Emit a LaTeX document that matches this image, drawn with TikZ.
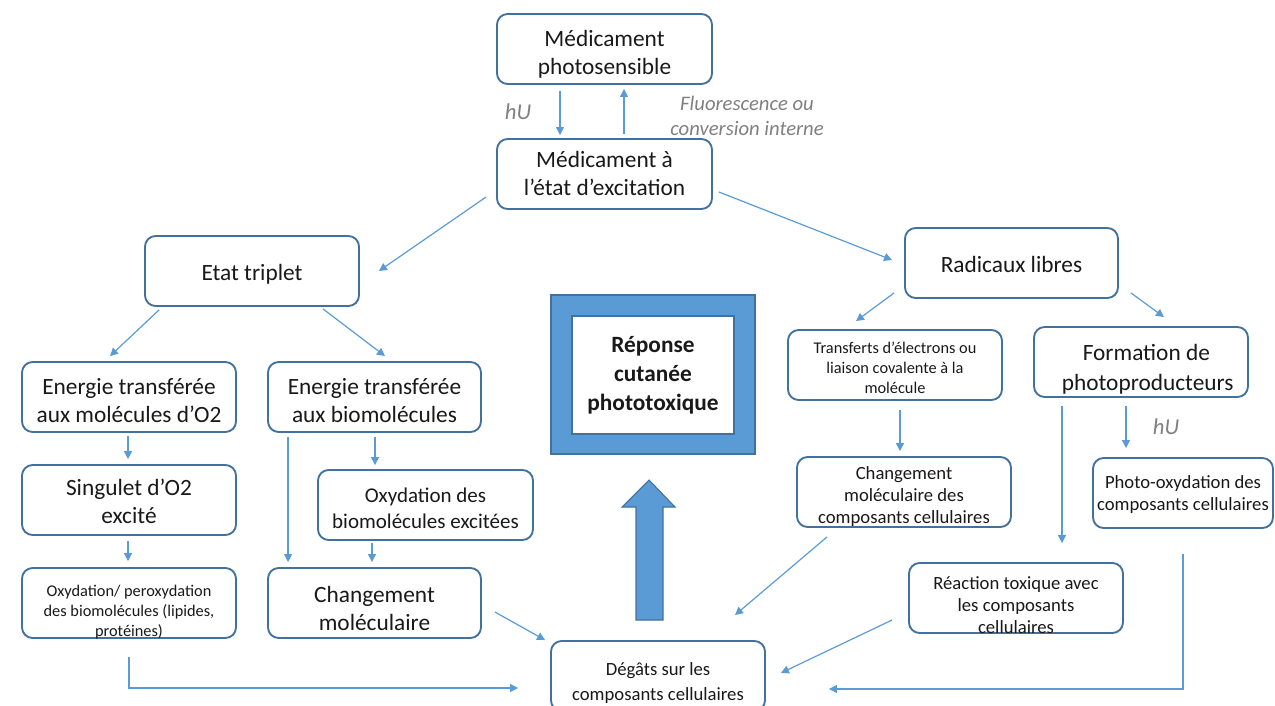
\documentclass[tikz,border=0pt]{standalone}
\usepackage{fontspec}
\setmainfont{Carlito}
\usetikzlibrary{arrows.meta}
\definecolor{bordercol}{HTML}{41719C}
\definecolor{arrowcol}{HTML}{5B9BD5}
\definecolor{graytext}{HTML}{808080}
\newcommand\bxt[2][0pt]{\raisebox{-#1}[\height][\depth]{\begin{tabular}{@{}c@{}}#2\end{tabular}}}
\begin{document}
\begin{tikzpicture}[x=0.75pt,y=-0.75pt,
  box/.style={draw=bordercol, line width=1.4pt, rounded corners=8pt, fill=white, align=center, inner sep=1pt, text=black!90},
  wh/.style 2 args={minimum width=#1*0.75pt, minimum height=#2*0.75pt},
  fbig/.style={font=\fontsize{17.5}{21}\selectfont},
  fform/.style={font=\fontsize{17.5}{22.5}\selectfont},
  fmid/.style={font=\fontsize{14}{18.75}\selectfont},
  fsmall/.style={font=\fontsize{14}{16.75}\selectfont},
  foxb/.style={font=\fontsize{15.75}{19.5}\selectfont},
  ftiny/.style={font=\fontsize{12.25}{15}\selectfont},
  glabel/.style={text=graytext, align=center, font=\itshape\fontsize{15.5}{18.5}\selectfont},
  hlabel/.style={text=graytext, font=\itshape\fontsize{17}{20}\selectfont},
  arr/.style={draw=arrowcol, line width=0.9pt, -{Triangle[length=6pt,width=6pt]}},
  bigfill/.style={fill=arrowcol, draw=bordercol, line width=0.8pt}
]
\useasboundingbox (0,0) rectangle (1275,706);
\clip (0,0) rectangle (1275,706);

% boxes
\node[box, wh={215}{70}, fbig] (photo) at (604.5,49) {\bxt[4.5pt]{Médicament\\photosensible}};
\node[box, wh={215}{70}, fbig] (excit) at (604.5,174) {\bxt[1.5pt]{Médicament à\\l’état d’excitation}};
\node[box, wh={214}{70}, fbig] (triplet) at (252,271) {\bxt[3pt]{Etat triplet}};
\node[box, wh={214}{70}, fbig] (eo2) at (129,397) {\bxt[4.5pt]{Energie transférée\\aux molécules d’O2}};
\node[box, wh={213}{70}, fbig] (ebio) at (374.5,397) {\bxt[4.5pt]{Energie transférée\\aux biomolécules}};
\node[box, wh={214}{70}, fbig] (sing) at (129,500) {\bxt[3pt]{Singulet d’O2\\excité}};
\node[box, wh={214}{70}, ftiny] (perox) at (129,603) {\bxt[7pt]{Oxydation/ peroxydation\\des biomolécules (lipides,\\protéines)}};
\node[box, wh={215}{70}, foxb] (oxbio) at (425.5,505) {\bxt[3.75pt]{Oxydation des\\biomolécules excitées}};
\node[box, wh={213}{70}, fbig] (chg) at (374.5,603) {\bxt[6.25pt]{Changement\\moléculaire}};
\node[box, wh={214}{70}, fmid] (degats) at (658,676) {\bxt[5pt]{Dégâts sur les\\composants cellulaires}};
\node[box, wh={213}{70}, fbig] (rad) at (1011.5,263) {\bxt[3pt]{Radicaux libres}};
\node[box, wh={214}{70}, ftiny] (trans) at (895,365) {\bxt[3pt]{Transferts d’électrons ou\\liaison covalente à la\\molécule}};
\node[box, wh={214}{70}, fform] (form) at (1141,362) {\bxt[5.5pt]{\hspace*{8pt}Formation de\\\hspace*{10pt}photoproducteurs}};
\node[box, wh={214}{70}, fsmall] (chgc) at (904,492) {\bxt[3.75pt]{Changement\\moléculaire des\\composants cellulaires}};
\node[box, wh={180}{70}, fsmall] (photox) at (1183,493) {\bxt[1.5pt]{Photo-oxydation des\\composants cellulaires}};
\node[box, wh={214}{70}, fsmall] (react) at (1016,598) {\bxt[6.75pt]{Réaction toxique avec\\les composants\\cellulaires}};

% central response frame
\node[bigfill, minimum width=204*0.75pt, minimum height=159*0.75pt] (frame) at (653,374.5) {};
\node[fill=white, draw=bordercol, line width=0.8pt, minimum width=162*0.75pt, minimum height=118*0.75pt, align=center, text=black!90, font=\bfseries\fontsize{17.5}{21.75}\selectfont] (rep) at (653,375) {Réponse\\cutanée\\phototoxique};

% big arrow
\draw[bigfill] (636,620) -- (663,620) -- (663,507) -- (675,507) -- (649,480) -- (622,507) -- (636,507) -- cycle;

% labels
\node[hlabel] (hv1) at (518,112) {hU};
\node[glabel] (fluo) at (747,116) {Fluorescence ou\\conversion interne};
\node[hlabel] (hv2) at (1166,427) {hU};

% connectors
\draw[arr] ([shift={(-44.5,6)}]photo.south) -- ([shift={(-44.5,-3)}]excit.north);
\draw[arr] ([shift={(19.5,-4)}]excit.north) -- ([shift={(19.5,4)}]photo.south);
\draw[arr] ([shift={(-10,23)}]excit.west) -- ([shift={(19,0)}]triplet.east);
\draw[arr] ([shift={(6,18)}]excit.east) -- ([shift={(-12,-3)}]rad.west);
\draw[arr] ([shift={(15,3)}]triplet.south west) -- ([shift={(-19,-5)}]eo2.north);
\draw[arr] ([shift={(71,2)}]triplet.south) -- ([shift={(10.5,-5)}]ebio.north);
\draw[arr] ([shift={(-1,3)}]eo2.south) -- ([shift={(-1,-5)}]sing.north);
\draw[arr] ([shift={(-1,5)}]sing.south) -- ([shift={(-1,-6)}]perox.north);
\draw[arr] ([shift={(21,4)}]ebio.south west) -- ([shift={(21,-5)}]chg.north west);
\draw[arr] ([shift={(0.5,4)}]ebio.south) -- ([shift={(-50.5,-4)}]oxbio.north);
\draw[arr] ([shift={(-53.5,2)}]oxbio.south) -- ([shift={(-2.5,-5)}]chg.north);
\draw[arr] ([shift={(13,9)}]chg.east) -- ([shift={(-5,0)}]degats.north west);
\draw[arr] ([shift={(0,18)}]perox.south) |- ([shift={(-32,12)}]degats.west);
\draw[arr] ([shift={(-10,-6)}]rad.south west) -- ([shift={(-39,-8)}]trans.north);
\draw[arr] ([shift={(12,-6)}]rad.south east) -- ([shift={(23,-9)}]form.north);
\draw[arr] ([shift={(5,9)}]trans.south) -- ([shift={(-4,-5)}]chgc.north);
\draw[arr] ([shift={(-15,8)}]form.south) -- ([shift={(-57,-9)}]photox.north);
\draw[arr] ([shift={(-79,8)}]form.south) -- ([shift={(46,-19)}]react.north);
\draw[arr] ([shift={(-77,9)}]chgc.south) -- ([shift={(77,-25)}]degats.north);
\draw[arr] ([shift={(-16,22)}]react.west) -- ([shift={(15,-3)}]degats.east);
\draw[arr] ([shift={(0,25)}]photox.south) |- ([shift={(63,13)}]degats.east);
\end{tikzpicture}
\end{document}
